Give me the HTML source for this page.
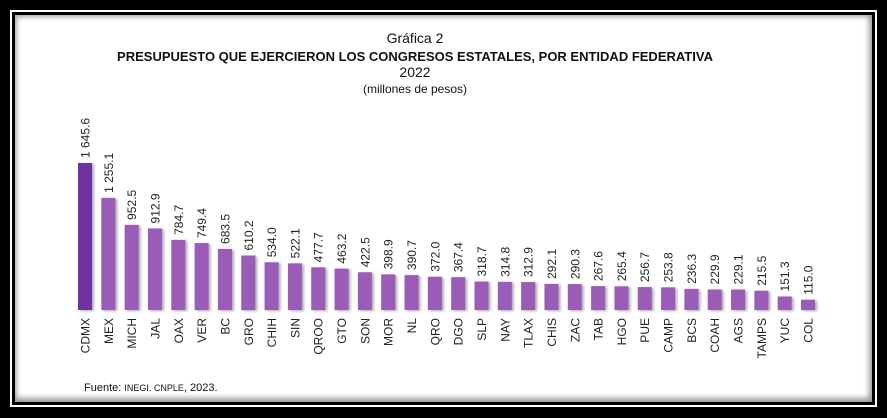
<!DOCTYPE html>
<html><head><meta charset="utf-8"><style>
html,body{margin:0;padding:0;background:#fff}
body{width:887px;height:418px;position:relative;overflow:hidden;font-family:"Liberation Sans",sans-serif}
#f1{position:absolute;left:0;top:0;width:887px;height:418px;background:#000}
#f2{position:absolute;left:10px;top:10px;right:10px;bottom:11px;background:#fff}
#f3{position:absolute;left:12px;top:12px;right:12px;bottom:13px;background:#000}
#f4{position:absolute;left:15px;top:15px;right:15px;bottom:16px;background:#fff;box-shadow:inset -5px -6px 6px -2px #999,inset 4px 4px 5px -2px #aaa}
</style></head><body>
<div id="f1"></div>
<div id="f2"></div>
<div id="f3"></div>
<div id="f4"></div>
<svg id="chart" width="887" height="418" style="position:absolute;left:0;top:0">
<defs><filter id="sh" x="-20%" y="-10%" width="160%" height="130%"><feDropShadow dx="2" dy="1" stdDeviation="1.2" flood-color="#777" flood-opacity="0.6"/></filter></defs>
<text x="415" y="43" text-anchor="middle" font-size="14" fill="#111">Gráfica 2</text>
<text x="415" y="61" text-anchor="middle" font-size="13" font-weight="bold" fill="#111">PRESUPUESTO QUE EJERCIERON LOS CONGRESOS ESTATALES, POR ENTIDAD FEDERATIVA</text>
<text x="415" y="77" text-anchor="middle" font-size="14" fill="#111">2022</text>
<text x="415" y="93" text-anchor="middle" font-size="12" fill="#111">(millones de pesos)</text>
<text x="84" y="391" font-size="11" fill="#111">Fuente: <tspan font-size="9">INEGI. CNPLE</tspan>, 2023.</text>
<g id="bars"></g>
</svg>
<script>
const categories=["CDMX","MEX","MICH","JAL","OAX","VER","BC","GRO","CHIH","SIN","QROO","GTO","SON","MOR","NL","QRO","DGO","SLP","NAY","TLAX","CHIS","ZAC","TAB","HGO","PUE","CAMP","BCS","COAH","AGS","TAMPS","YUC","COL"];
const values=[1645.6,1255.1,952.5,912.9,784.7,749.4,683.5,610.2,534.0,522.1,477.7,463.2,422.5,398.9,390.7,372.0,367.4,318.7,314.8,312.9,292.1,290.3,267.6,265.4,256.7,253.8,236.3,229.9,229.1,215.5,151.3,115.0];
const valueLabels=["1 645.6","1 255.1","952.5","912.9","784.7","749.4","683.5","610.2","534.0","522.1","477.7","463.2","422.5","398.9","390.7","372.0","367.4","318.7","314.8","312.9","292.1","290.3","267.6","265.4","256.7","253.8","236.3","229.9","229.1","215.5","151.3","115.0"];
const NS="http://www.w3.org/2000/svg";
const base=310, scaleY=147/1645.6, x0=85, step=(808-85)/31, bw=14;
const yS=v=>base-v*scaleY;
const xS=i=>x0+i*step;
const g=document.getElementById('bars');
categories.forEach((c,i)=>{
  const cx=xS(i), top=yS(values[i]);
  const r=document.createElementNS(NS,'rect');
  
  
  r.setAttribute('x',cx-bw/2);r.setAttribute('y',top);
  r.setAttribute('width',bw);r.setAttribute('height',base-top);
  r.setAttribute('fill',i===0?'#7030a0':'#9b5cb8');
  r.setAttribute('filter','url(#sh)');
  g.appendChild(r);
  const t=document.createElementNS(NS,'text');
  
  
  t.setAttribute('transform','translate('+(cx+4.5)+','+(top-5)+') rotate(-90)');
  t.setAttribute('font-size','12');t.setAttribute('fill','#222');
  t.textContent=valueLabels[i];g.appendChild(t);
  const l=document.createElementNS(NS,'text');
  
  
  l.setAttribute('transform','translate('+(cx+4.5)+',318) rotate(-90)');
  l.setAttribute('text-anchor','end');
  l.setAttribute('font-size','12');l.setAttribute('fill','#222');
  l.textContent=c;g.appendChild(l);
});
</script>
</body></html>
